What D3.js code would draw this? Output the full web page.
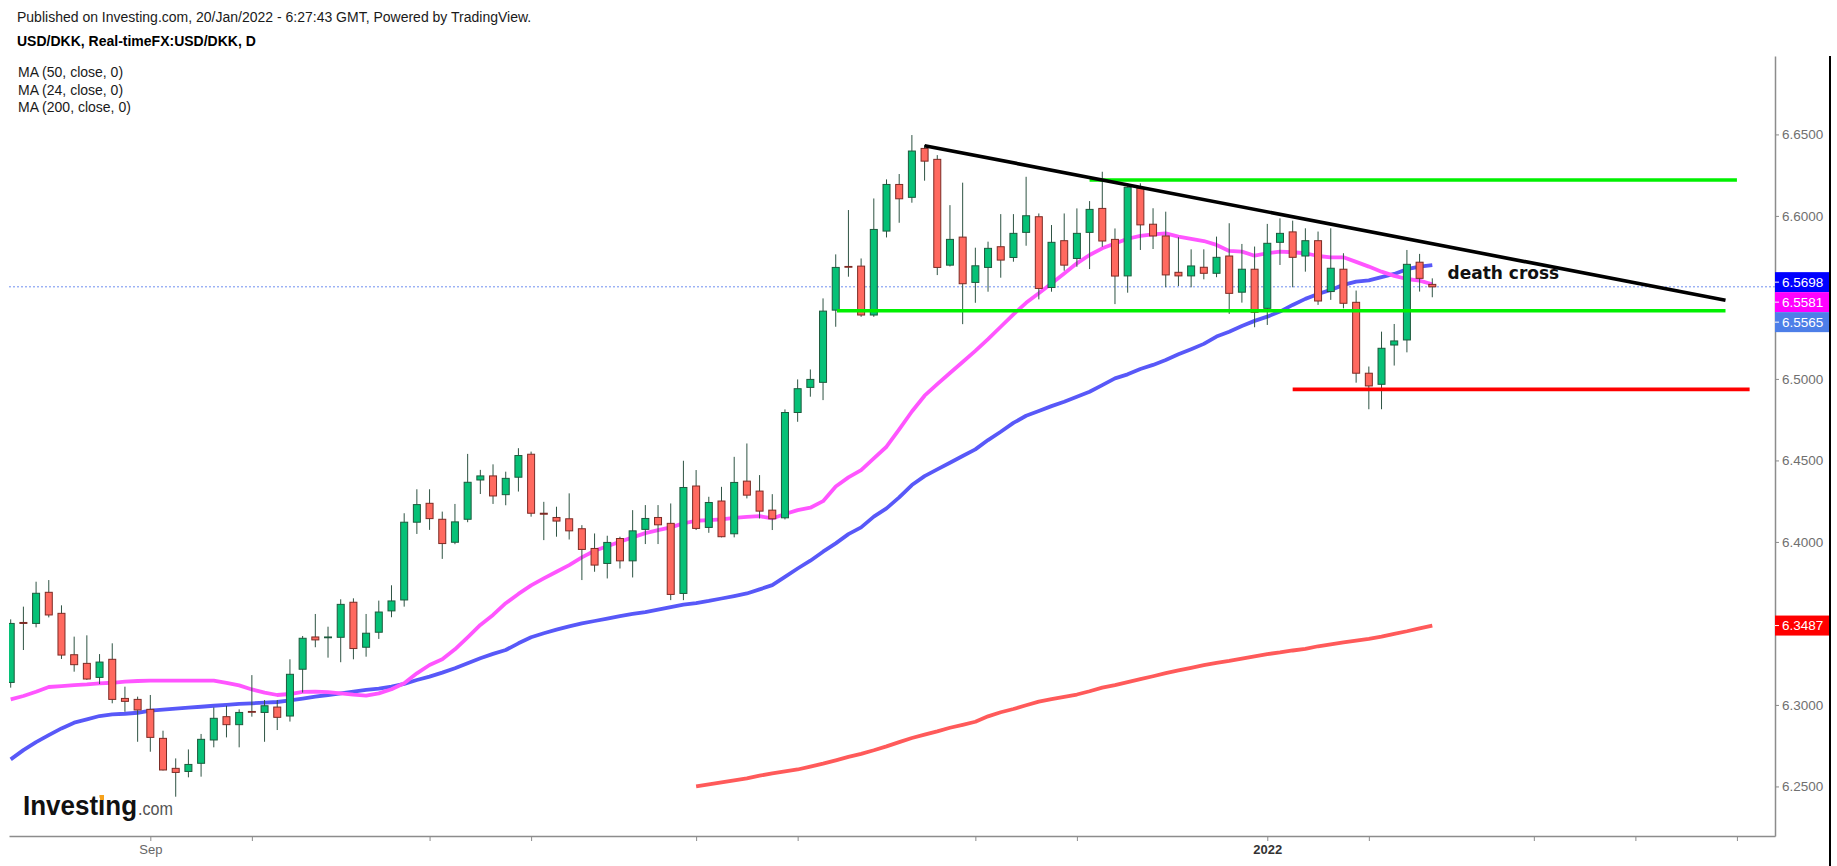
<!DOCTYPE html>
<html>
<head>
<meta charset="utf-8">
<script src="https://cdn.jsdelivr.net/npm/d3@7"></script>
<style>
  body { margin: 0; background: #fff; }
  svg { display: block; font-family: "Liberation Sans", Arial, sans-serif; }
</style>
</head>
<body>
<svg id="chart" width="1837" height="866"></svg>
<script>
// trading days, index 0 = 1 Sep 2021, first visible candle = 17 Aug 2021
const firstIndex = -11;

const opens = [
  6.3138, 6.3506, 6.3500, 6.3691, 6.3562, 6.3308, 6.3255, 6.3169, 6.3280, 6.3040,
  6.3034, 6.2973, 6.2795, 6.2611, 6.2592, 6.2642, 6.2785, 6.2928, 6.2879, 6.2960,
  6.2954, 6.2987, 6.2932, 6.3219, 6.3417, 6.3415, 6.3415, 6.3630, 6.3354, 6.3446,
  6.3577, 6.3644, 6.4121, 6.4237, 6.4139, 6.3998, 6.4139, 6.4380, 6.4405, 6.4290,
  6.4397, 6.4538, 6.4176, 6.4150, 6.4142, 6.4081, 6.3960, 6.3868, 6.4021, 6.3884,
  6.4077, 6.4150, 6.4114, 6.3684, 6.4343, 6.4089, 6.4251, 6.4050, 6.4373, 6.4312,
  6.4195, 6.4148, 6.4794, 6.4948, 6.4979, 6.5422, 6.5690, 6.5692, 6.5392, 6.5907,
  6.6193, 6.6114, 6.6414, 6.6347, 6.5698, 6.5870, 6.5592, 6.5684, 6.5811, 6.5745,
  6.5899, 6.5995, 6.5561, 6.5848, 6.5739, 6.5899, 6.6046, 6.5856, 6.5632, 6.6170,
  6.5949, 6.5877, 6.5654, 6.5632, 6.5685, 6.5648, 6.5754, 6.5532, 6.5673, 6.5433,
  6.5838, 6.5902, 6.5754, 6.5848, 6.5536, 6.5673, 6.5470, 6.5035, 6.4967, 6.5208,
  6.5239, 6.5716, 6.5580
];
const highs = [
  6.3525, 6.3603, 6.3756, 6.3766, 6.3611, 6.3419, 6.3427, 6.3312, 6.3378, 6.3112,
  6.3051, 6.3061, 6.2842, 6.2672, 6.2727, 6.2822, 6.2985, 6.2995, 6.2973, 6.3183,
  6.3030, 6.3030, 6.3280, 6.3423, 6.3558, 6.3480, 6.3648, 6.3654, 6.3558, 6.3640,
  6.3734, 6.4176, 6.4323, 6.4323, 6.4186, 6.4233, 6.4540, 6.4442, 6.4476, 6.4431,
  6.4575, 6.4554, 6.4246, 6.4216, 6.4298, 6.4103, 6.4052, 6.4038, 6.4032, 6.4195,
  6.4226, 6.4226, 6.4236, 6.4498, 6.4441, 6.4277, 6.4338, 6.4522, 6.4604, 6.4410,
  6.4293, 6.4813, 6.4997, 6.5058, 6.5494, 6.5764, 6.6036, 6.5739, 6.6107, 6.6224,
  6.6257, 6.6496, 6.6435, 6.6373, 6.6066, 6.6204, 6.5805, 6.5842, 6.6011, 6.6011,
  6.6240, 6.6015, 6.5944, 6.6015, 6.6046, 6.6091, 6.6271, 6.5923, 6.6200, 6.6200,
  6.6047, 6.6026, 6.5869, 6.5795, 6.5795, 6.5873, 6.5955, 6.5828, 6.5812, 6.5951,
  6.5985, 6.5971, 6.5924, 6.5904, 6.5924, 6.5771, 6.5542, 6.5076, 6.5290, 6.5337,
  6.5791, 6.5767, 6.5617
];
const lows = [
  6.3106, 6.3337, 6.3476, 6.3537, 6.3282, 6.3204, 6.3153, 6.3128, 6.3010, 6.2958,
  6.2774, 6.2713, 6.2598, 6.2437, 6.2556, 6.2560, 6.2740, 6.2801, 6.2740, 6.2928,
  6.2774, 6.2846, 6.2898, 6.3076, 6.3354, 6.3290, 6.3262, 6.3280, 6.3296, 6.3405,
  6.3538, 6.3603, 6.4049, 6.4074, 6.3896, 6.3986, 6.4121, 6.4294, 6.4233, 6.4225,
  6.4309, 6.4155, 6.4011, 6.4032, 6.4015, 6.3766, 6.3817, 6.3776, 6.3837, 6.3782,
  6.3987, 6.3987, 6.3643, 6.3643, 6.4073, 6.4056, 6.4028, 6.4028, 6.4267, 6.4144,
  6.4073, 6.4138, 6.4737, 6.4891, 6.4870, 6.5320, 6.5627, 6.5381, 6.5381, 6.5868,
  6.5958, 6.6081, 6.6216, 6.5637, 6.5690, 6.5336, 6.5467, 6.5535, 6.5621, 6.5719,
  6.5817, 6.5488, 6.5535, 6.5664, 6.5688, 6.5674, 6.5811, 6.5459, 6.5529, 6.5791,
  6.5797, 6.5562, 6.5570, 6.5562, 6.5611, 6.5624, 6.5399, 6.5468, 6.5317, 6.5331,
  6.5699, 6.5562, 6.5658, 6.5454, 6.5485, 6.5433, 6.4977, 6.4814, 6.4814, 6.5082,
  6.5163, 6.5536, 6.5501
];
const closes = [
  6.3500, 6.3500, 6.3685, 6.3552, 6.3306, 6.3247, 6.3159, 6.3263, 6.3034, 6.3022,
  6.2969, 6.2801, 6.2601, 6.2586, 6.2635, 6.2789, 6.2918, 6.2879, 6.2954, 6.2955,
  6.2995, 6.2924, 6.3188, 6.3409, 6.3399, 6.3417, 6.3617, 6.3346, 6.3440, 6.3570,
  6.3638, 6.4121, 6.4229, 6.4143, 6.3990, 6.4123, 6.4366, 6.4405, 6.4282, 6.4390,
  6.4530, 6.4176, 6.4170, 6.4128, 6.4068, 6.3954, 6.3858, 6.3997, 6.3884, 6.4068,
  6.4144, 6.4105, 6.3678, 6.4334, 6.4083, 6.4242, 6.4032, 6.4365, 6.4287, 6.4189,
  6.4142, 6.4794, 6.4940, 6.4997, 6.5416, 6.5684, 6.5686, 6.5392, 6.5917, 6.6193,
  6.6105, 6.6398, 6.6336, 6.5684, 6.5856, 6.5584, 6.5694, 6.5801, 6.5729, 6.5893,
  6.6001, 6.5555, 6.5838, 6.5698, 6.5893, 6.6040, 6.5846, 6.5631, 6.6176, 6.5945,
  6.5877, 6.5638, 6.5632, 6.5693, 6.5648, 6.5746, 6.5525, 6.5673, 6.5409, 6.5832,
  6.5893, 6.5746, 6.5848, 6.5478, 6.5679, 6.5464, 6.5035, 6.4957, 6.5188, 6.5233,
  6.5703, 6.5617, 6.5565
];

const ma50 = [
  6.2666, 6.2723, 6.2772, 6.2815, 6.2856, 6.2891, 6.2911, 6.2932, 6.2942, 6.2946,
  6.2952, 6.2965, 6.2971, 6.2977, 6.2983, 6.2989, 6.2995, 6.3000, 6.3006, 6.3010,
  6.3014, 6.3018, 6.3028, 6.3039, 6.3051, 6.3061, 6.3071, 6.3082, 6.3092, 6.3100,
  6.3112, 6.3129, 6.3153, 6.3174, 6.3198, 6.3225, 6.3256, 6.3286, 6.3313, 6.3337,
  6.3378, 6.3415, 6.3440, 6.3462, 6.3482, 6.3500, 6.3515, 6.3530, 6.3545, 6.3558,
  6.3570, 6.3585, 6.3600, 6.3615, 6.3625, 6.3638, 6.3653, 6.3668, 6.3684, 6.3709,
  6.3735, 6.3786, 6.3837, 6.3885, 6.3940, 6.3991, 6.4048, 6.4089, 6.4155, 6.4206,
  6.4273, 6.4349, 6.4404, 6.4445, 6.4486, 6.4527, 6.4568, 6.4625, 6.4676, 6.4730,
  6.4774, 6.4803, 6.4833, 6.4860, 6.4891, 6.4921, 6.4962, 6.5003, 6.5028, 6.5061,
  6.5086, 6.5116, 6.5151, 6.5182, 6.5215, 6.5260, 6.5290, 6.5325, 6.5356, 6.5382,
  6.5413, 6.5454, 6.5491, 6.5521, 6.5546, 6.5577, 6.5597, 6.5605, 6.5624, 6.5644,
  6.5673, 6.5689, 6.5698
];
const ma24 = [
  6.3034, 6.3055, 6.3081, 6.3110, 6.3116, 6.3122, 6.3126, 6.3132, 6.3136, 6.3143,
  6.3147, 6.3149, 6.3149, 6.3149, 6.3149, 6.3149, 6.3149, 6.3136, 6.3120, 6.3095,
  6.3075, 6.3061, 6.3067, 6.3080, 6.3082, 6.3078, 6.3071, 6.3063, 6.3057, 6.3071,
  6.3096, 6.3133, 6.3194, 6.3245, 6.3280, 6.3341, 6.3415, 6.3491, 6.3552, 6.3624,
  6.3681, 6.3733, 6.3776, 6.3817, 6.3858, 6.3905, 6.3946, 6.3974, 6.4001, 6.4028,
  6.4054, 6.4073, 6.4089, 6.4114, 6.4130, 6.4134, 6.4138, 6.4148, 6.4154, 6.4158,
  6.4144, 6.4171, 6.4195, 6.4210, 6.4250, 6.4340, 6.4396, 6.4441, 6.4513, 6.4584,
  6.4690, 6.4800, 6.4897, 6.4968, 6.5036, 6.5104, 6.5172, 6.5244, 6.5320, 6.5396,
  6.5467, 6.5525, 6.5586, 6.5647, 6.5709, 6.5760, 6.5801, 6.5831, 6.5860, 6.5877,
  6.5887, 6.5893, 6.5873, 6.5859, 6.5846, 6.5822, 6.5785, 6.5781, 6.5756, 6.5771,
  6.5781, 6.5777, 6.5771, 6.5754, 6.5746, 6.5746, 6.5718, 6.5689, 6.5658, 6.5632,
  6.5613, 6.5603, 6.5581
];
const ma200Start = 43;
const ma200 = [
  6.2500, 6.2512, 6.2525, 6.2538, 6.2550, 6.2566, 6.2580, 6.2592, 6.2604, 6.2622,
  6.2640, 6.2660, 6.2681, 6.2700, 6.2722, 6.2746, 6.2772, 6.2797, 6.2818, 6.2838,
  6.2860, 6.2878, 6.2897, 6.2930, 6.2955, 6.2975, 6.2998, 6.3020, 6.3036, 6.3050,
  6.3064, 6.3084, 6.3106, 6.3122, 6.3140, 6.3158, 6.3176, 6.3195, 6.3212, 6.3228,
  6.3244, 6.3258, 6.3270, 6.3284, 6.3298, 6.3312, 6.3322, 6.3334, 6.3344, 6.3360,
  6.3372, 6.3384, 6.3395, 6.3406, 6.3419, 6.3436, 6.3452, 6.3470, 6.3487
];

const dayTicks = [0, 8, 22, 30, 43, 51, 65, 73, 88, 96, 109, 117, 125];
const dayTickLabels = { 0: "Sep", 88: "2022" };
const priceTicks = [6.25, 6.30, 6.35, 6.40, 6.45, 6.50, 6.55, 6.60, 6.65];

// hand drawn lines: [day1, price1, day2, price2]
const resistanceLine = [61.0, 6.6431, 124.1, 6.5482];
const rangeTop = [74.0, 6.6220, 125.0, 6.6220];
const rangeBottom = [54.1, 6.5418, 124.1, 6.5418];
const supportLine = [90.0, 6.4936, 126.0, 6.4936];
const noteText = "death cross";
const notePoint = [102.2, 6.5613];

const headerLines = ["Published on Investing.com, 20/Jan/2022 - 6:27:43 GMT, Powered by TradingView."];
const titleText = "USD/DKK, Real-timeFX:USD/DKK, D";
const legendLines = ["MA (50, close, 0)", "MA (24, close, 0)", "MA (200, close, 0)"];

const W = 1837, H = 866;
const plot = { left: 9, right: 1775, top: 56, bottom: 836 };

const svg = d3.select("#chart");

const x = d3.scaleLinear().domain([-11.134, 128]).range([plot.left, plot.right]);
const y = d3.scaleLinear().domain([6.2196, 6.6981]).range([plot.bottom, plot.top]);

svg.append("defs").append("clipPath").attr("id", "plotclip")
  .append("rect")
  .attr("x", plot.left).attr("y", plot.top)
  .attr("width", plot.right - plot.left).attr("height", plot.bottom - plot.top);

// header
svg.append("text").attr("x", 17).attr("y", 22)
  .attr("font-size", 14).attr("fill", "#1a1a1a").text(headerLines[0]);
svg.append("text").attr("x", 17).attr("y", 46)
  .attr("font-size", 14).attr("font-weight", "bold").attr("fill", "#000").text(titleText);
svg.selectAll("text.legend").data(legendLines).join("text")
  .attr("class", "legend")
  .attr("x", 18).attr("y", (d, k) => 77 + k * 17.5)
  .attr("font-size", 14).attr("fill", "#1a1a1a")
  .text(d => d);

const g = svg.append("g").attr("clip-path", "url(#plotclip)");

// last price dotted line
const lastClose = closes[closes.length - 1];
g.append("line")
  .attr("x1", plot.left).attr("x2", plot.right)
  .attr("y1", y(lastClose)).attr("y2", y(lastClose))
  .attr("stroke", "#6f8ff0").attr("stroke-width", 1).attr("stroke-dasharray", "2,2");

// moving averages
const maLine = (start) => d3.line().x((d, k) => x(start + k)).y(d => y(d));
const maSeries = [
  { values: ma200, start: ma200Start, color: "#ff5a5a" },
  { values: ma50, start: firstIndex, color: "#5858f8" },
  { values: ma24, start: firstIndex, color: "#ff55ff" }
];
g.selectAll("path.ma").data(maSeries).join("path")
  .attr("class", "ma")
  .attr("d", d => maLine(d.start)(d.values))
  .attr("fill", "none")
  .attr("stroke", d => d.color)
  .attr("stroke-width", 3.8)
  .attr("stroke-linejoin", "round");

// candles
const candles = opens.map((o, k) => ({ i: firstIndex + k, o: o, h: highs[k], l: lows[k], c: closes[k] }));
const isUp = d => d.c >= d.o;

g.selectAll("line.wick").data(candles).join("line")
  .attr("class", "wick")
  .attr("x1", d => x(d.i)).attr("x2", d => x(d.i))
  .attr("y1", d => y(d.h)).attr("y2", d => y(d.l))
  .attr("stroke", "#2f5444").attr("stroke-width", 1);

g.selectAll("rect.body").data(candles).join("rect")
  .attr("class", "body")
  .attr("x", d => x(d.i) - 3.5)
  .attr("width", 7)
  .attr("y", d => y(Math.max(d.o, d.c)))
  .attr("height", d => Math.max(0.8, Math.abs(y(d.o) - y(d.c))))
  .attr("fill", d => isUp(d) ? "#06c177" : "#ff695f")
  .attr("stroke", d => isUp(d) ? "#1d5a3d" : "#7c2b25")
  .attr("stroke-width", 1);

// drawings
const drawings = [
  { p: rangeTop, color: "#00f000" },
  { p: rangeBottom, color: "#00f000" },
  { p: supportLine, color: "#ff0000" },
  { p: resistanceLine, color: "#000000" }
];
svg.selectAll("line.draw").data(drawings).join("line")
  .attr("class", "draw")
  .attr("x1", d => x(d.p[0])).attr("y1", d => y(d.p[1]))
  .attr("x2", d => x(d.p[2])).attr("y2", d => y(d.p[3]))
  .attr("stroke", d => d.color)
  .attr("stroke-width", 3.6);

svg.append("text")
  .attr("x", x(notePoint[0])).attr("y", y(notePoint[1]))
  .attr("font-family", "'DejaVu Sans', Verdana, sans-serif")
  .attr("font-weight", "bold").attr("font-size", 17).attr("fill", "#111")
  .text(noteText);

// price labels on the scale
const boxH = 20;
const stacked = [
  { v: ma50[ma50.length - 1], bg: "#0000ff" },
  { v: ma24[ma24.length - 1], bg: "#ff00ff" },
  { v: lastClose, bg: "#4d7ee8" }
];
stacked.forEach((d, k) => { d.cy = y(stacked[0].v) + 17 + k * boxH; });
const single = [{ v: ma200[ma200.length - 1], bg: "#ff0000", cy: y(ma200[ma200.length - 1]) }];
const priceLabels = stacked.concat(single);

const shownTicks = priceTicks.filter(t => priceLabels.every(l => Math.abs(y(t) - l.cy) > boxH * 0.9));

// axes
const xAxis = d3.axisBottom(x)
  .tickValues(dayTicks)
  .tickFormat(i => dayTickLabels[i] || "")
  .tickSize(5).tickSizeOuter(0).tickPadding(4);
const xg = svg.append("g").attr("transform", `translate(0,${plot.bottom})`).call(xAxis);
xg.select(".domain").attr("stroke", "#8c8c8c").attr("stroke-width", 1.5);
xg.selectAll(".tick line").attr("stroke", "#8c8c8c");
xg.selectAll(".tick text")
  .attr("font-size", 13)
  .attr("font-family", "'Liberation Sans', Arial, sans-serif")
  .attr("fill", i => i === 88 ? "#333" : "#666")
  .attr("font-weight", i => i === 88 ? "bold" : "normal");

const yAxis = d3.axisRight(y)
  .tickValues(shownTicks)
  .tickFormat(d3.format(".4f"))
  .tickSize(4).tickSizeOuter(0).tickPadding(3);
const yg = svg.append("g").attr("transform", `translate(${plot.right},0)`).call(yAxis);
yg.select(".domain").attr("stroke", "#8c8c8c").attr("stroke-width", 1.5);
yg.selectAll(".tick line").attr("stroke", "#8c8c8c");
yg.selectAll(".tick text")
  .attr("font-size", 13.5)
  .attr("font-family", "'Liberation Sans', Arial, sans-serif")
  .attr("fill", "#707070");

const lg = svg.selectAll("g.plabel").data(priceLabels).join("g")
  .attr("class", "plabel")
  .attr("transform", d => `translate(${plot.right},${d.cy})`);
lg.append("rect")
  .attr("x", 0).attr("y", -boxH / 2).attr("width", 55).attr("height", boxH)
  .attr("fill", d => d.bg);
lg.append("line")
  .attr("x1", 0).attr("x2", 4).attr("y1", 0).attr("y2", 0)
  .attr("stroke", "#fff").attr("stroke-width", 1);
lg.append("text")
  .attr("x", 7).attr("y", 0).attr("dy", "0.36em")
  .attr("font-size", 13.5).attr("fill", "#fff")
  .text(d => d3.format(".4f")(d.v));

// right border
svg.append("line")
  .attr("x1", 1830).attr("x2", 1830).attr("y1", plot.top).attr("y2", H)
  .attr("stroke", "#000").attr("stroke-width", 2);

// watermark logo
const logo = svg.append("g").attr("transform", "translate(23,815)");
logo.append("text")
  .attr("font-family", "'Liberation Sans Narrow', 'Liberation Sans', Arial, sans-serif")
  .attr("font-weight", "bold").attr("font-size", 27).attr("fill", "#111")
  .attr("textLength", 114).attr("lengthAdjust", "spacingAndGlyphs")
  .text("Investing");
logo.append("text")
  .attr("x", 115)
  .attr("font-family", "'Liberation Sans Narrow', 'Liberation Sans', Arial, sans-serif")
  .attr("font-size", 19).attr("fill", "#555")
  .attr("textLength", 35).attr("lengthAdjust", "spacingAndGlyphs")
  .text(".com");
logo.append("rect")
  .attr("x", 77).attr("y", -20).attr("width", 4).attr("height", 5)
  .attr("fill", "#f6a21c");
</script>
</body>
</html>
